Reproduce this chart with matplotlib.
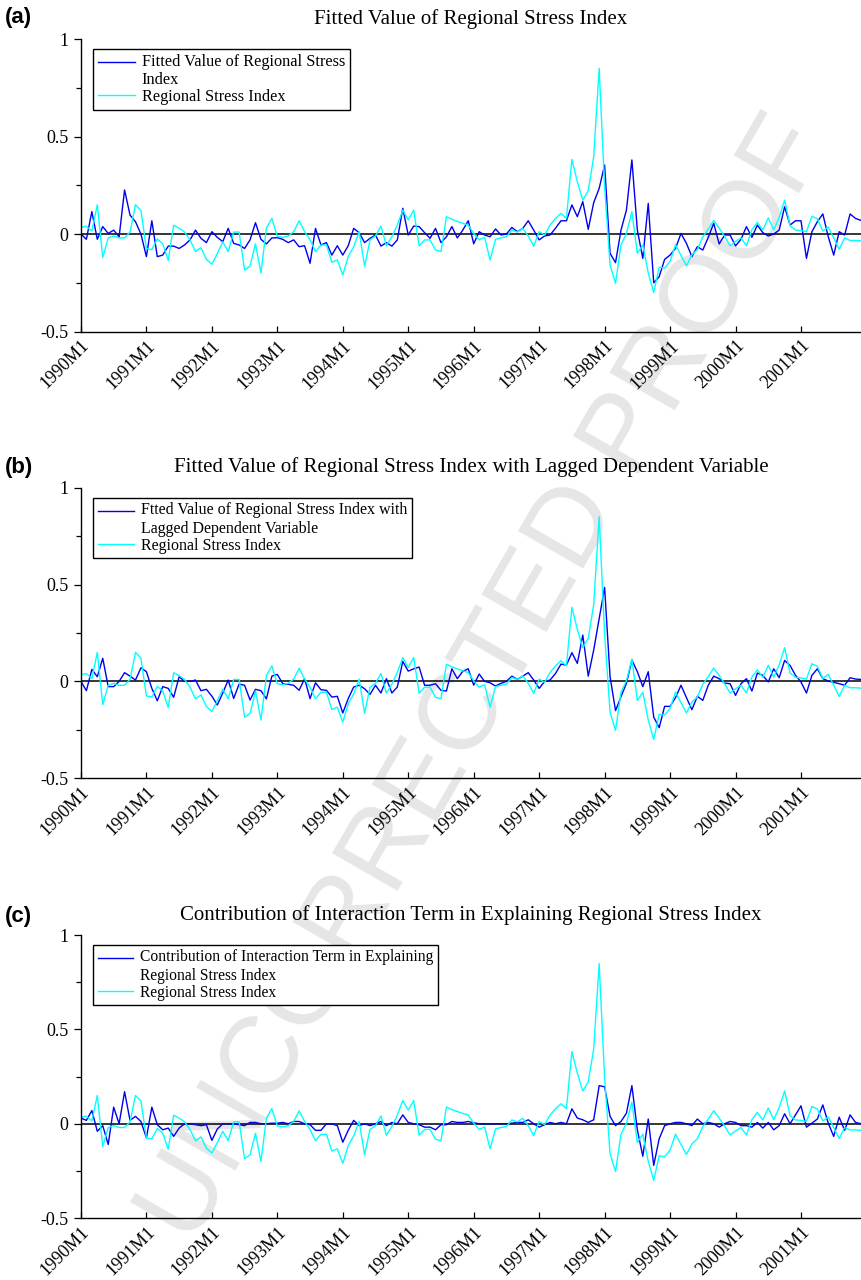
import numpy as np
import matplotlib
matplotlib.use("Agg")
import matplotlib.pyplot as plt
from matplotlib.legend_handler import HandlerLine2D

# monthly data, 1990M1 .. 2001M12
tick_labels = ['1990M1', '1991M1', '1992M1', '1993M1', '1994M1', '1995M1',
               '1996M1', '1997M1', '1998M1', '1999M1', '2000M1', '2001M1']

regional_stress = [
    0.035, 0.04, 0.015, 0.15, -0.12, -0.02, -0.01, -0.02, -0.02, 0.01,
    0.15, 0.12, -0.075, -0.08, -0.025, -0.05, -0.135, 0.045, 0.03, 0.01,
    -0.03, -0.09, -0.07, -0.13, -0.155, -0.10, -0.04, -0.09, 0.01, 0.01,
    -0.185, -0.165, -0.05, -0.2, 0.03, 0.08, -0.012, -0.017, -0.01, 0.012,
    0.068, 0.012, -0.03, -0.09, -0.056, -0.056, -0.145, -0.133, -0.21, -0.116,
    -0.065, 0.012, -0.165, -0.03, -0.01, 0.041, -0.061, -0.014, 0.046, 0.123,
    0.072, 0.123, -0.061, -0.03, -0.03, -0.082, -0.09, 0.089, 0.075, 0.065,
    0.055, 0.046, 0.003, -0.03, -0.017, -0.133, -0.027, -0.02, -0.014, 0.02,
    0.01, 0.029, -0.01, -0.062, 0.012, -0.005, 0.046, 0.08, 0.106, 0.08,
    0.383, 0.268, 0.174, 0.222, 0.397, 0.85, 0.243, -0.159, -0.253, -0.056,
    0.003, 0.115, -0.099, -0.056, -0.2, -0.30, -0.17, -0.175, -0.14, -0.055,
    -0.11, -0.163, -0.107, -0.08, -0.015, 0.025, 0.069, 0.03, -0.012, -0.06,
    -0.038, -0.02, -0.06, 0.022, 0.06, 0.02, 0.083, 0.022, 0.085, 0.174,
    0.043, 0.02, 0.018, 0.012, 0.091, 0.078, 0.015, 0.036, -0.02, -0.078,
    -0.02, -0.033, -0.033, -0.035]

fitted_value = [
    0.0, -0.027, 0.115, -0.027, 0.038, 0.003, 0.02, -0.014, 0.226, 0.097,
    0.063, 0.0, -0.116, 0.068, -0.116, -0.108, -0.062, -0.062, -0.074, -0.056,
    -0.03, 0.02, -0.022, -0.044, 0.012, -0.017, -0.039, 0.029, -0.048, -0.056,
    -0.074, -0.03, 0.058, -0.027, -0.051, -0.02, -0.019, -0.027, -0.044, -0.03,
    -0.065, -0.06, -0.15, 0.029, -0.056, -0.044, -0.108, -0.06, -0.108, -0.06,
    0.029, 0.007, -0.044, -0.022, -0.005, -0.062, -0.044, -0.062, -0.03, 0.132,
    -0.005, 0.041, 0.038, 0.007, -0.022, 0.029, -0.044, -0.014, 0.038, -0.02,
    0.02, 0.068, -0.05, 0.012, -0.005, -0.014, 0.026, -0.005, 0.0, 0.034,
    0.012, 0.029, 0.068, 0.02, -0.03, -0.01, -0.005, 0.03, 0.068, 0.068,
    0.149, 0.089, 0.166, 0.024, 0.161, 0.234, 0.354, -0.099, -0.147, 0.02,
    0.123, 0.38, 0.02, -0.125, 0.157, -0.25, -0.219, -0.13, -0.108, -0.074,
    0.003, -0.048, -0.116, -0.065, -0.082, -0.017, 0.055, -0.051, -0.005, -0.005,
    -0.061, -0.027, 0.038, -0.017, 0.046, 0.007, -0.01, 0.0, 0.02, 0.14,
    0.046, 0.068, 0.068, -0.125, 0.012, 0.063, 0.103, -0.014, -0.108, 0.012,
    -0.005, 0.103, 0.08, 0.07]

fitted_lagged = [
    0.0, -0.048, 0.062, 0.024, 0.119, -0.027, -0.027, 0.0, 0.045, 0.027,
    0.007, 0.07, 0.05, -0.036, -0.1, -0.027, -0.036, -0.082, 0.024, 0.0,
    0.0, 0.007, -0.048, -0.041, -0.076, -0.122, -0.06, 0.007, -0.088, -0.014,
    -0.02, -0.096, -0.041, -0.048, -0.09, 0.027, 0.036, -0.012, -0.015, -0.02,
    -0.046, 0.014, -0.089, -0.007, -0.043, -0.046, -0.081, -0.077, -0.163, -0.089,
    -0.029, -0.02, -0.038, -0.067, -0.02, -0.06, 0.014, -0.06, -0.029, 0.103,
    0.053, 0.065, 0.074, -0.02, -0.02, -0.012, -0.046, -0.05, 0.065, 0.014,
    0.052, 0.065, -0.019, 0.038, 0.0, -0.007, -0.024, -0.01, 0.0, 0.027,
    0.01, 0.027, 0.045, 0.007, -0.036, 0.0, 0.007, 0.041, 0.089, 0.084,
    0.148, 0.093, 0.239, 0.027, 0.162, 0.325, 0.485, 0.024, -0.151, -0.079,
    -0.01, 0.11, 0.05, -0.027, 0.05, -0.184, -0.239, -0.129, -0.129, -0.084,
    -0.02, -0.084, -0.146, -0.077, -0.098, -0.02, 0.027, 0.014, -0.009, -0.012,
    -0.072, -0.012, 0.014, -0.05, 0.043, 0.031, -0.003, 0.065, 0.019, 0.108,
    0.082, 0.031, -0.003, -0.06, 0.031, 0.065, 0.014, 0.002, -0.005, -0.012,
    -0.02, 0.019, 0.012, 0.01]

interaction = [
    0.03, 0.018, 0.07, -0.04, -0.01, -0.11, 0.088, 0.0, 0.17, 0.018,
    0.039, 0.012, -0.075, 0.088, -0.005, -0.032, -0.023, -0.067, -0.023, 0.0,
    0.0, -0.005, -0.01, -0.005, -0.088, -0.028, 0.0, 0.0, 0.0, -0.005,
    -0.01, 0.007, 0.007, 0.0, 0.0, 0.003, 0.003, 0.007, 0.0, 0.012,
    0.012, 0.0, -0.005, -0.035, -0.035, 0.0, 0.0, -0.01, -0.098, -0.035,
    0.018, -0.01, 0.0, -0.01, 0.0, 0.012, -0.01, 0.007, 0.0, 0.047,
    0.007, 0.0, -0.005, -0.018, -0.018, -0.032, -0.005, -0.005, 0.012, 0.007,
    0.007, 0.012, 0.005, 0.0, 0.0, 0.0, 0.0, 0.0, 0.0, 0.003,
    0.007, 0.007, 0.021, 0.0, -0.018, -0.005, 0.007, 0.0, 0.007, 0.0,
    0.079, 0.03, 0.021, 0.007, 0.021, 0.202, 0.196, 0.039, -0.01, 0.012,
    0.056, 0.202, -0.032, -0.172, 0.025, -0.221, -0.08, -0.01, 0.0, 0.007,
    0.007, 0.0, -0.01, 0.025, 0.0, 0.007, 0.0, -0.018, 0.0, 0.012,
    0.007, -0.01, -0.01, -0.018, 0.007, -0.023, 0.007, -0.032, -0.01, 0.053,
    0.0, 0.047, 0.095, -0.018, 0.003, 0.025, 0.1, 0.003, -0.067, 0.035,
    -0.035, 0.047, 0.007, 0.0]

panels = [
    ('(a)', 'Fitted Value of Regional Stress Index', fitted_value,
     'Fitted Value of Regional Stress\nIndex'),
    ('(b)', 'Fitted Value of Regional Stress Index with Lagged Dependent Variable',
     fitted_lagged, 'Ftted Value of Regional Stress Index with\nLagged Dependent Variable'),
    ('(c)', 'Contribution of Interaction Term in Explaining Regional Stress Index',
     interaction, 'Contribution of Interaction Term in Explaining\nRegional Stress Index'),
]

# axes boxes in figure fractions (left, bottom, width, height)
boxes = [(0.094, 0.741, 0.906, 0.2285),
         (0.094, 0.392, 0.906, 0.227),
         (0.094, 0.0484, 0.906, 0.221)]
label_y = [0.986, 0.635, 0.284]
legend_size = [11.7, 11.5, 11.2]

SERIF = 'Liberation Serif'
BLUE = '#0000ee'
CYAN = '#00ffff'


class FirstLineHandler(HandlerLine2D):
    """put the legend line level with the first line of a two-line label"""
    def __init__(self, nlines=2, **kw):
        super().__init__(**kw)
        self.nlines = nlines

    def create_artists(self, legend, orig_handle, xdescent, ydescent,
                       width, height, fontsize, trans):
        arts = super().create_artists(legend, orig_handle, xdescent, ydescent,
                                      width, height, fontsize, trans)
        shift = 0.58 * fontsize * (self.nlines - 1)
        for a in arts:
            a.set_ydata(np.asarray(a.get_ydata()) + shift)
        return arts


fig = plt.figure(figsize=(8.61, 12.8), dpi=100)

fig.text(0.565, 0.468, 'UNCORRECTED PROOF', rotation=60, fontsize=79,
         color='#e6e6e6', ha='center', va='center', family='Liberation Sans',
         zorder=-5)

x = np.arange(len(regional_stress))

for (tag, title, series, leg_label), box, ly, lsize in zip(panels, boxes, label_y, legend_size):
    ax = fig.add_axes(box)
    ax.set_facecolor('none')
    ax.axhline(0, color='black', lw=1.1, zorder=1)
    hb, = ax.plot(x, series, color=BLUE, lw=1.0, zorder=2)
    hc, = ax.plot(x, regional_stress, color=CYAN, lw=1.0, zorder=2)

    ax.set_xlim(0, 143)
    ax.set_ylim(-0.5, 1)
    ax.set_xticks(np.arange(0, 144, 12))
    ax.set_xticklabels(tick_labels, family=SERIF, fontsize=13)
    plt.setp(ax.get_xticklabels(), rotation=45, ha='right', va='top',
             rotation_mode='anchor')
    ax.set_yticks([-0.5, 0, 0.5, 1])
    ax.set_yticklabels(['-0.5', '0', '0.5', '1'], family=SERIF, fontsize=13)
    ax.set_yticks([-0.25, 0.25, 0.75], minor=True)
    ax.tick_params(axis='y', which='major', direction='out', length=5, width=0.9, pad=4)
    ax.tick_params(axis='y', which='minor', direction='out', length=3.5, width=0.9)
    ax.tick_params(axis='x', which='major', direction='in', length=4, width=0.9, pad=4)
    for side in ('top', 'right'):
        ax.spines[side].set_visible(False)
    for side in ('left', 'bottom'):
        ax.spines[side].set_linewidth(1.0)

    ax.set_title(title, family=SERIF, fontsize=15, pad=11)
    fig.text(0.006, ly, tag, family='Liberation Sans', fontweight='bold',
             fontsize=16, va='center', ha='left')

    leg = ax.legend([hb, hc], [leg_label, 'Regional Stress Index'],
                    loc='upper left', bbox_to_anchor=(0.0154, 0.966),
                    borderaxespad=0, fancybox=False, framealpha=1,
                    edgecolor='black', prop={'family': SERIF, 'size': lsize},
                    handlelength=2.3, handletextpad=0.4, labelspacing=0.05,
                    borderpad=0.3, handler_map={hb: FirstLineHandler(2)})
    leg.get_frame().set_linewidth(1.0)

fig.savefig('out.png', dpi=100)
